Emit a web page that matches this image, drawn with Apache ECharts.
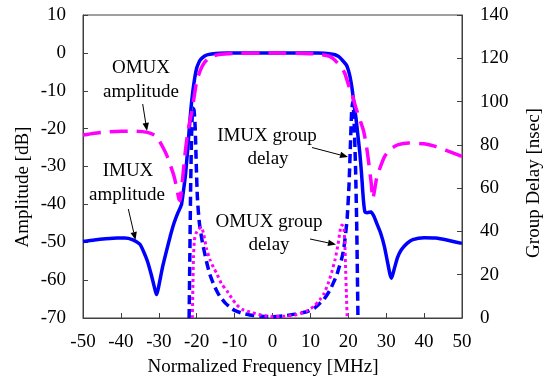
<!DOCTYPE html>
<html><head><meta charset="utf-8">
<script src="https://cdn.jsdelivr.net/npm/echarts@6/dist/echarts.min.js"></script>
<style>html,body{margin:0;padding:0;background:#fff}#c{width:550px;height:381px}</style>
</head><body><div id="c"></div>
<script>
// ---- data ----
const xMin = -50, xMax = 50, xStep = 10;
const ampMin = -70, ampMax = 10, ampStep = 10;
const delayMin = 0, delayMax = 140, delayStep = 20;

const imuxAmpFreq = [-50,-47,-44,-41,-39,-37,-35,-34,-33,-32,-31,-30.6,-30.2,-29.5,-29,-28,-27,-26,-25,-24.4,-24,-23.5,-23,-22.5,-22,-21.5,-21,-20.5,-20,-19.5,-19,-18,-17,-15,-12,-5,0,5,12,15,16.5,17.5,18.5,19.5,20,20.5,21,21.5,22,22.5,23,23.5,24,24.4,25,26,26.7,27.5,28.5,29.5,30.3,31,31.4,32,33,34,35.5,37,40,43,46,50];
const imuxAmpDb   = [-49.8,-49.4,-49.1,-48.9,-48.9,-49.3,-50.5,-52.5,-55,-58.5,-62.5,-63.8,-62.5,-59,-56.5,-52.4,-48.5,-45,-42.3,-41,-40,-36.5,-32.5,-27,-20.5,-14.5,-10,-6.5,-4,-2.7,-1.8,-0.9,-0.45,-0.15,-0.05,0,0,0,-0.05,-0.2,-0.5,-1,-2,-3.2,-4.5,-6.5,-9.5,-13.5,-17,-21.5,-26,-32,-39,-42,-42.2,-42,-43,-45,-47.5,-51,-55,-58.5,-59.5,-57.5,-54,-52,-50.3,-49.3,-48.8,-48.9,-49.4,-50.3];

const omuxAmpFreq = [-50,-47,-44,-40,-36,-33,-31,-30,-29,-28,-27,-26,-25.3,-24.7,-24.4,-24.1,-23.5,-23,-22.5,-22,-21.3,-20.5,-20,-19,-18,-17,-16,-14,-10,0,10,13,15,16,17,18,19,20,21,22,23,24,24.7,25.3,26,26.5,26.8,27.5,28.5,29.5,31,33,36,40,43,46,50];
const omuxAmpDb   = [-21.7,-21.2,-20.9,-20.7,-20.7,-21,-21.8,-23,-24.8,-26.8,-29.5,-32.5,-35.5,-38.5,-39,-37,-31,-26,-22,-19,-15.5,-10.5,-7.5,-4.5,-2.6,-1.5,-0.9,-0.4,-0.15,-0.05,-0.2,-0.5,-0.9,-1.5,-2.5,-3.7,-5.2,-8.3,-11,-14.5,-17.5,-20.5,-24,-28.3,-34,-38.5,-37,-33,-30,-27.5,-25.5,-24.3,-23.8,-24,-24.7,-25.8,-27.3];

const imuxDelayFreq = [-22,-21.8,-21.6,-21.3,-21,-20.7,-20.4,-20.1,-19.8,-19.3,-18.5,-17.4,-16.5,-15.5,-14.7,-13.9,-12.5,-11.2,-10,-8,-6,-3,0,3,6,9,11,12.5,13.5,14.5,15.2,16,16.9,17.5,18.2,18.7,19.1,19.7,20.2,20.6,20.9,21.2,21.5,21.9,22.2,22.4,22.55];
const imuxDelayNs   = [0,30,60,88,97,96,88,70,55,44,35,26,20,15.5,12.5,10,7,5,3.5,2.2,1.4,0.8,0.6,1,1.8,2.9,4.5,6.8,8.5,11,13,16,19.5,23,27,31,36,46,62,82,96,100,92,70,45,20,0];

const omuxDelayFreq = [-21.15,-21,-20.85,-20.6,-20.2,-19.5,-18.8,-18.2,-17.4,-16.5,-15.6,-14.7,-13.5,-12,-10.5,-9.4,-8,-6,-4,-2,0,3,6,9,11,12.5,13.5,14.7,15.6,16.5,17.3,17.8,18.3,18.8,19.1,19.3,19.5,19.7];
const omuxDelayNs   = [0,15,28,36,39,41,42,39,32,27,23.5,20.5,16,12.5,8.5,6,4,2.8,1.8,1,0.6,0.8,1.4,3.2,5.5,8.5,11,16,21,27,34,40,43,42,34,22,11,0];

// ---- chart ----
const zip = (a, b) => a.map((v, i) => [v, b[i]]);
const FONT = '"Liberation Serif", "Times New Roman", serif';
const BLUE = '#0000FF', MAG = '#FF00FF', AX = '#404040';

function arrow(x1, y1, x2, y2) {
  const dx = x2 - x1, dy = y2 - y1, L = Math.hypot(dx, dy);
  const ux = dx / L, uy = dy / L, hl = 8, hw = 3.2;
  const bx = x2 - ux * hl, by = y2 - uy * hl;
  return [
    { type: 'line', shape: { x1, y1, x2: bx, y2: by }, style: { stroke: '#000', lineWidth: 1 }, z: 100 },
    { type: 'polygon', shape: { points: [[x2, y2], [bx - uy * hw, by + ux * hw], [bx + uy * hw, by - ux * hw]] }, style: { fill: '#000' }, z: 100 }
  ];
}
function txt(x, y, s, rot) {
  return { type: 'text', x, y, rotation: rot || 0, z: 100,
    style: { text: s, font: '19px ' + FONT, fill: '#000', align: 'center', verticalAlign: 'middle' } };
}

const chart = echarts.init(document.getElementById('c'), null, { renderer: 'canvas' });
chart.setOption({
  animation: false,
  backgroundColor: '#fff',
  grid: { left: 83, right: 88, top: 15, bottom: 63, show: true, borderColor: AX, borderWidth: 1, containLabel: false },
  xAxis: {
    type: 'value', min: xMin, max: xMax, interval: xStep,
    axisLine: { show: true, onZero: false, lineStyle: { color: AX, width: 1 } },
    axisTick: { show: true, inside: true, length: 5, lineStyle: { color: AX } },
    splitLine: { show: false },
    axisLabel: { color: '#000', fontFamily: FONT, fontSize: 19, margin: 15 }
  },
  yAxis: [
    {
      type: 'value', min: ampMin, max: ampMax, interval: ampStep, position: 'left',
      axisLine: { show: true, onZero: false, lineStyle: { color: AX, width: 1 } },
      axisTick: { show: true, inside: true, length: 5, lineStyle: { color: AX } },
      splitLine: { show: false },
      axisLabel: { color: '#000', fontFamily: FONT, fontSize: 19, margin: 17 }
    },
    {
      type: 'value', min: delayMin, max: delayMax, interval: delayStep, position: 'right',
      axisLine: { show: true, onZero: false, lineStyle: { color: AX, width: 1 } },
      axisTick: { show: true, inside: true, length: 5, lineStyle: { color: AX } },
      splitLine: { show: false },
      axisLabel: { color: '#000', fontFamily: FONT, fontSize: 19, margin: 18 }
    }
  ],
  series: [
    { name: 'IMUX amplitude', type: 'line', yAxisIndex: 0, data: zip(imuxAmpFreq, imuxAmpDb), symbol: 'none', smooth: 0.2,
      lineStyle: { color: BLUE, width: 3.5, type: 'solid' } },
    { name: 'IMUX group delay', type: 'line', yAxisIndex: 1, data: zip(imuxDelayFreq, imuxDelayNs), symbol: 'none', smooth: 0.2,
      lineStyle: { color: BLUE, width: 3.5, type: [9, 5] } },
    { name: 'OMUX amplitude', type: 'line', yAxisIndex: 0, data: zip(omuxAmpFreq, omuxAmpDb), symbol: 'none', smooth: 0.2,
      lineStyle: { color: MAG, width: 3.5, type: [18, 9] } },
    { name: 'OMUX group delay', type: 'line', yAxisIndex: 1, data: zip(omuxDelayFreq, omuxDelayNs), symbol: 'none', smooth: 0.2,
      lineStyle: { color: MAG, width: 3, type: [3, 3] } }
  ],
  graphic: [
    txt(141, 68, 'OMUX'), txt(141, 92, 'amplitude'),
    txt(128, 171, 'IMUX'), txt(127, 195, 'amplitude'),
    txt(267, 136, 'IMUX group'), txt(268, 159, 'delay'),
    txt(269, 222, 'OMUX group'), txt(269, 245, 'delay'),
    txt(263, 367, 'Normalized Frequency [MHz]'),
    txt(23.5, 187, 'Amplitude [dB]', Math.PI / 2),
    txt(534, 183, 'Group Delay [nsec]', Math.PI / 2),
    ...arrow(142.7, 104, 147, 131),
    ...arrow(128.3, 209, 135.5, 240),
    ...arrow(312, 147.5, 348, 157),
    ...arrow(310, 239, 336, 244.5)
  ]
});
</script>
</body></html>
